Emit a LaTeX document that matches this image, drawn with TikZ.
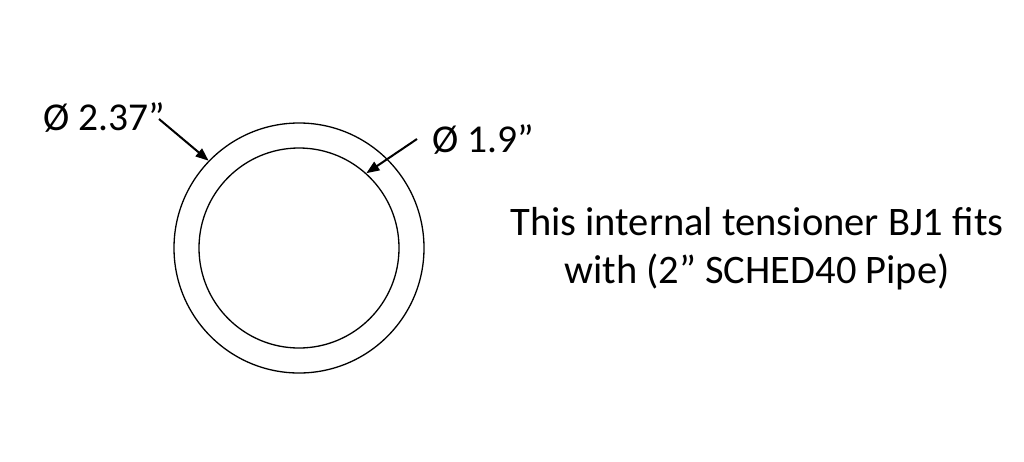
\documentclass[tikz,border=0pt]{standalone}
\usepackage{fontspec}
\setmainfont{Carlito}
\usetikzlibrary{arrows.meta}
\tikzset{
  ring/.style={draw=black, line width=1.3pt, circle, inner sep=0pt},
  dimlabel/.style={anchor=base west, inner sep=0pt, font=\fontsize{39.5}{47}\selectfont},
  note/.style={anchor=base, inner sep=0pt, align=center, font=\fontsize{40.5}{48}\selectfont},
  pointer/.style={line width=2pt, -{Triangle[length=13pt, width=10pt]}}
}
\begin{document}
\begin{tikzpicture}[x=1pt, y=-1pt]
\useasboundingbox (0,0) rectangle (1024,461);
\node[ring, minimum size=250pt] (outer) at (299,248) {};
\node[ring, minimum size=200pt] (inner) at (299,248) {};
\node[dimlabel] (lab1) at (43,130) {Ø 2.37”};
\node[dimlabel] (lab2) at (432,152) {Ø 1.9”};
\coordinate (s1) at (159,119);
\coordinate (s2) at (417,139);
\draw[pointer] (s1) -- (outer.136);
\draw[pointer] (s2) -- (inner.48.6);
\node[note] (txt) at (757,283) {This internal tensioner BJ1 fits\\with (2” SCHED40 Pipe)};
\end{tikzpicture}
\end{document}
